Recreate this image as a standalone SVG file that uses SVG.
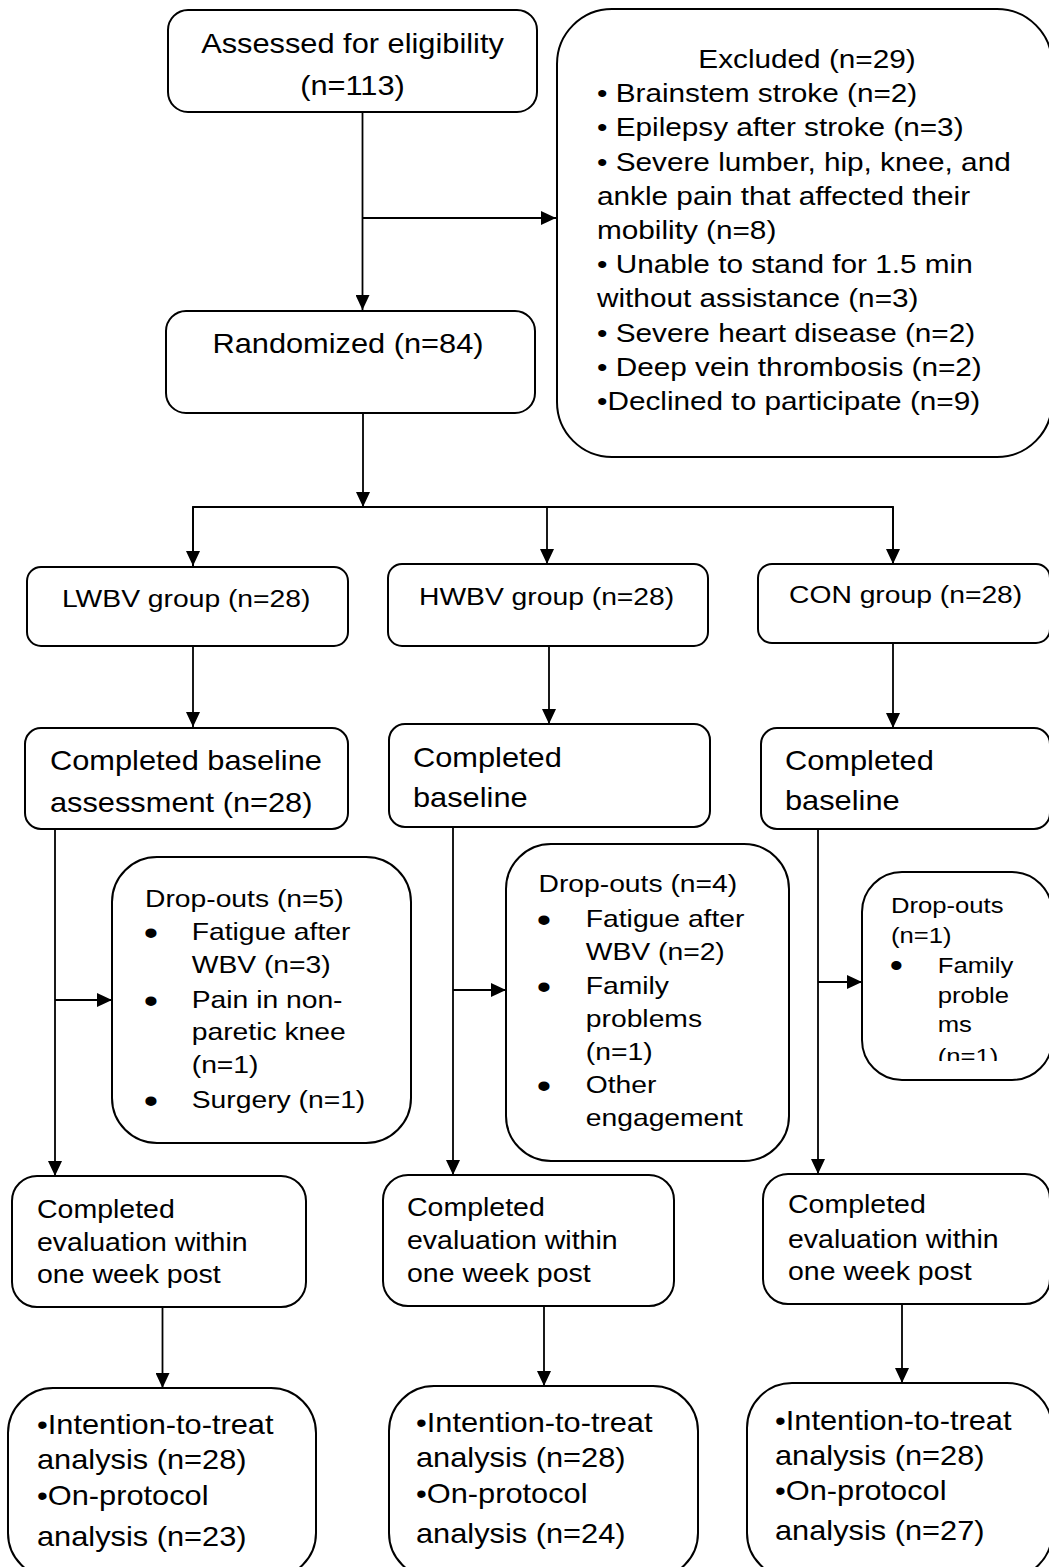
<svg xmlns="http://www.w3.org/2000/svg" width="1049" height="1567" viewBox="0 0 1049 1567">
<style>
.box{fill:#fff;stroke:#000;stroke-width:2}
.ln{fill:none;stroke:#000;stroke-width:1.8}
.t{font-family:"Liberation Sans",Arial,sans-serif;fill:#000}
.f27{font-size:27px}
.f26{font-size:26.1px}
.f25{font-size:25px}
.f24{font-size:24.8px}
.f22{font-size:22.5px}
.bl{font-size:36px}
.bls{font-size:33px}
</style>
<defs>
<marker id="ah" markerWidth="15" markerHeight="14" refX="15" refY="7" orient="auto" markerUnits="userSpaceOnUse">
<path d="M0,0 L15,7 L0,14 z" fill="#000"/>
</marker>
<clipPath id="clipCon"><rect x="860" y="870" width="189" height="191"/></clipPath>
</defs>
<rect width="1049" height="1567" fill="#fff"/>

<g id="connectors">
<line class="ln" x1="362.5" y1="112" x2="362.5" y2="310" marker-end="url(#ah)"/>
<line class="ln" x1="362.5" y1="218" x2="556" y2="218" marker-end="url(#ah)"/>
<line class="ln" x1="363" y1="413" x2="363" y2="507" marker-end="url(#ah)"/>
<polyline class="ln" points="193,566 193,507 893,507 893,564"/>
<line class="ln" x1="193" y1="507" x2="193" y2="566" marker-end="url(#ah)"/>
<line class="ln" x1="547" y1="507" x2="547" y2="564" marker-end="url(#ah)"/>
<line class="ln" x1="893" y1="507" x2="893" y2="564" marker-end="url(#ah)"/>
<line class="ln" x1="193" y1="646" x2="193" y2="727" marker-end="url(#ah)"/>
<line class="ln" x1="549" y1="646" x2="549" y2="724" marker-end="url(#ah)"/>
<line class="ln" x1="893" y1="643" x2="893" y2="728" marker-end="url(#ah)"/>
<line class="ln" x1="55" y1="829" x2="55" y2="1176" marker-end="url(#ah)"/>
<line class="ln" x1="55" y1="1000" x2="112" y2="1000" marker-end="url(#ah)"/>
<line class="ln" x1="453" y1="827" x2="453" y2="1175" marker-end="url(#ah)"/>
<line class="ln" x1="453" y1="990" x2="506" y2="990" marker-end="url(#ah)"/>
<line class="ln" x1="818" y1="829" x2="818" y2="1174" marker-end="url(#ah)"/>
<line class="ln" x1="818" y1="982" x2="862" y2="982" marker-end="url(#ah)"/>
<line class="ln" x1="162.5" y1="1307" x2="162.5" y2="1388" marker-end="url(#ah)"/>
<line class="ln" x1="544" y1="1306" x2="544" y2="1386" marker-end="url(#ah)"/>
<line class="ln" x1="902" y1="1302" x2="902" y2="1383" marker-end="url(#ah)"/>
</g>

<g id="assessed">
<rect class="box" x="168" y="10" width="369" height="102" rx="20"/>
<text class="t f27" text-anchor="middle" transform="translate(352.5 0) scale(1.14 1)"><tspan x="0" y="53">Assessed for eligibility</tspan><tspan x="0" y="95">(n=113)</tspan></text>
</g>

<g id="excluded">
<rect class="box" x="557" y="9" width="495" height="448" rx="55"/>
<text class="t f26" text-anchor="middle" transform="translate(807 0) scale(1.14 1)"><tspan x="0" y="68">Excluded (n=29)</tspan></text>
<text class="t f26" transform="translate(597 0) scale(1.14 1)">
<tspan x="0" y="102">• Brainstem stroke (n=2)</tspan>
<tspan x="0" y="136.5">• Epilepsy after stroke (n=3)</tspan>
<tspan x="0" y="171">• Severe lumber, hip, knee, and</tspan>
<tspan x="0" y="205">ankle pain that affected their</tspan>
<tspan x="0" y="239.5">mobility (n=8)</tspan>
<tspan x="0" y="273.5">• Unable to stand for 1.5 min</tspan>
<tspan x="0" y="307.5">without assistance (n=3)</tspan>
<tspan x="0" y="342">• Severe heart disease (n=2)</tspan>
<tspan x="0" y="376">• Deep vein thrombosis (n=2)</tspan>
<tspan x="0" y="410">•Declined to participate (n=9)</tspan>
</text>
</g>

<g id="randomized">
<rect class="box" x="166" y="311" width="369" height="102" rx="20"/>
<text class="t f27" text-anchor="middle" transform="translate(348 0) scale(1.14 1)"><tspan x="0" y="353">Randomized (n=84)</tspan></text>
</g>

<g id="lwbv-group">
<rect class="box" x="27" y="567" width="321" height="79" rx="14"/>
<text class="t f24" transform="translate(62 0) scale(1.14 1)"><tspan x="0" y="607">LWBV group (n=28)</tspan></text>
</g>
<g id="hwbv-group">
<rect class="box" x="388" y="564" width="320" height="82" rx="14"/>
<text class="t f24" transform="translate(419 0) scale(1.14 1)"><tspan x="0" y="605">HWBV group (n=28)</tspan></text>
</g>
<g id="con-group">
<rect class="box" x="758" y="564" width="292" height="79" rx="14"/>
<text class="t f24" transform="translate(789 0) scale(1.14 1)"><tspan x="0" y="603">CON group (n=28)</tspan></text>
</g>

<g id="lwbv-baseline">
<rect class="box" x="25" y="728" width="323" height="101" rx="16"/>
<text class="t f27" transform="translate(50 0) scale(1.14 1)"><tspan x="0" y="770">Completed baseline</tspan><tspan x="0" y="812">assessment (n=28)</tspan></text>
</g>
<g id="hwbv-baseline">
<rect class="box" x="389" y="724" width="321" height="103" rx="16"/>
<text class="t f27" transform="translate(413 0) scale(1.14 1)"><tspan x="0" y="767">Completed</tspan><tspan x="0" y="807">baseline</tspan></text>
</g>
<g id="con-baseline">
<rect class="box" x="761" y="728" width="289" height="101" rx="16"/>
<text class="t f27" transform="translate(785 0) scale(1.14 1)"><tspan x="0" y="770">Completed</tspan><tspan x="0" y="810">baseline</tspan></text>
</g>

<g id="lwbv-dropouts">
<rect class="box" x="112" y="857" width="299" height="286" rx="45"/>
<text class="t f24" transform="translate(145 0) scale(1.14 1)">
<tspan x="0" y="907">Drop-outs (n=5)</tspan>
<tspan class="bl" x="-1" y="945">•</tspan><tspan x="41" y="940">Fatigue after</tspan>
<tspan x="41" y="973">WBV (n=3)</tspan>
<tspan class="bl" x="-1" y="1013">•</tspan><tspan x="41" y="1008">Pain in non-</tspan>
<tspan x="41" y="1040">paretic knee</tspan>
<tspan x="41" y="1073">(n=1)</tspan>
<tspan class="bl" x="-1" y="1113">•</tspan><tspan x="41" y="1108">Surgery (n=1)</tspan>
</text>
</g>

<g id="hwbv-dropouts">
<rect class="box" x="506" y="844" width="283" height="317" rx="45"/>
<text class="t f24" transform="translate(538.5 0) scale(1.14 1)">
<tspan x="0" y="892">Drop-outs (n=4)</tspan>
<tspan class="bl" x="-1.5" y="932">•</tspan><tspan x="41.5" y="927">Fatigue after</tspan>
<tspan x="41.5" y="960">WBV (n=2)</tspan>
<tspan class="bl" x="-1.5" y="999">•</tspan><tspan x="41.5" y="994">Family</tspan>
<tspan x="41.5" y="1027">problems</tspan>
<tspan x="41.5" y="1060">(n=1)</tspan>
<tspan class="bl" x="-1.5" y="1098">•</tspan><tspan x="41.5" y="1093">Other</tspan>
<tspan x="41.5" y="1126">engagement</tspan>
</text>
</g>

<g id="con-dropouts">
<rect class="box" x="862" y="872" width="190" height="208" rx="40"/>
<g clip-path="url(#clipCon)">
<text class="t f22" transform="translate(891 0) scale(1.14 1)">
<tspan x="0" y="913">Drop-outs</tspan>
<tspan x="0" y="943">(n=1)</tspan>
<tspan class="bls" x="-1" y="977">•</tspan><tspan x="41" y="973">Family</tspan>
<tspan x="41" y="1003">proble</tspan>
<tspan x="41" y="1032">ms</tspan>
<tspan x="41" y="1064">(n=1)</tspan>
</text>
</g>
</g>

<g id="lwbv-eval">
<rect class="box" x="12" y="1176" width="294" height="131" rx="25"/>
<text class="t f25" transform="translate(37 0) scale(1.14 1)"><tspan x="0" y="1218">Completed</tspan><tspan x="0" y="1251">evaluation within</tspan><tspan x="0" y="1283">one week post</tspan></text>
</g>
<g id="hwbv-eval">
<rect class="box" x="383" y="1175" width="291" height="131" rx="25"/>
<text class="t f25" transform="translate(407 0) scale(1.14 1)"><tspan x="0" y="1216">Completed</tspan><tspan x="0" y="1249">evaluation within</tspan><tspan x="0" y="1282">one week post</tspan></text>
</g>
<g id="con-eval">
<rect class="box" x="763" y="1174" width="287" height="130" rx="25"/>
<text class="t f25" transform="translate(788 0) scale(1.14 1)"><tspan x="0" y="1213">Completed</tspan><tspan x="0" y="1248">evaluation within</tspan><tspan x="0" y="1280">one week post</tspan></text>
</g>

<g id="lwbv-analysis">
<rect class="box" x="8" y="1388" width="308" height="190" rx="45"/>
<text class="t f27" transform="translate(37 0) scale(1.14 1)"><tspan x="0" y="1434">•Intention-to-treat</tspan><tspan x="0" y="1469">analysis (n=28)</tspan><tspan x="0" y="1505">•On-protocol</tspan><tspan x="0" y="1546">analysis (n=23)</tspan></text>
</g>
<g id="hwbv-analysis">
<rect class="box" x="389" y="1386" width="309" height="192" rx="45"/>
<text class="t f27" transform="translate(416 0) scale(1.14 1)"><tspan x="0" y="1432">•Intention-to-treat</tspan><tspan x="0" y="1467">analysis (n=28)</tspan><tspan x="0" y="1503">•On-protocol</tspan><tspan x="0" y="1543">analysis (n=24)</tspan></text>
</g>
<g id="con-analysis">
<rect class="box" x="747" y="1383" width="305" height="195" rx="45"/>
<text class="t f27" transform="translate(775 0) scale(1.14 1)"><tspan x="0" y="1430">•Intention-to-treat</tspan><tspan x="0" y="1465">analysis (n=28)</tspan><tspan x="0" y="1500">•On-protocol</tspan><tspan x="0" y="1540">analysis (n=27)</tspan></text>
</g>
</svg>
